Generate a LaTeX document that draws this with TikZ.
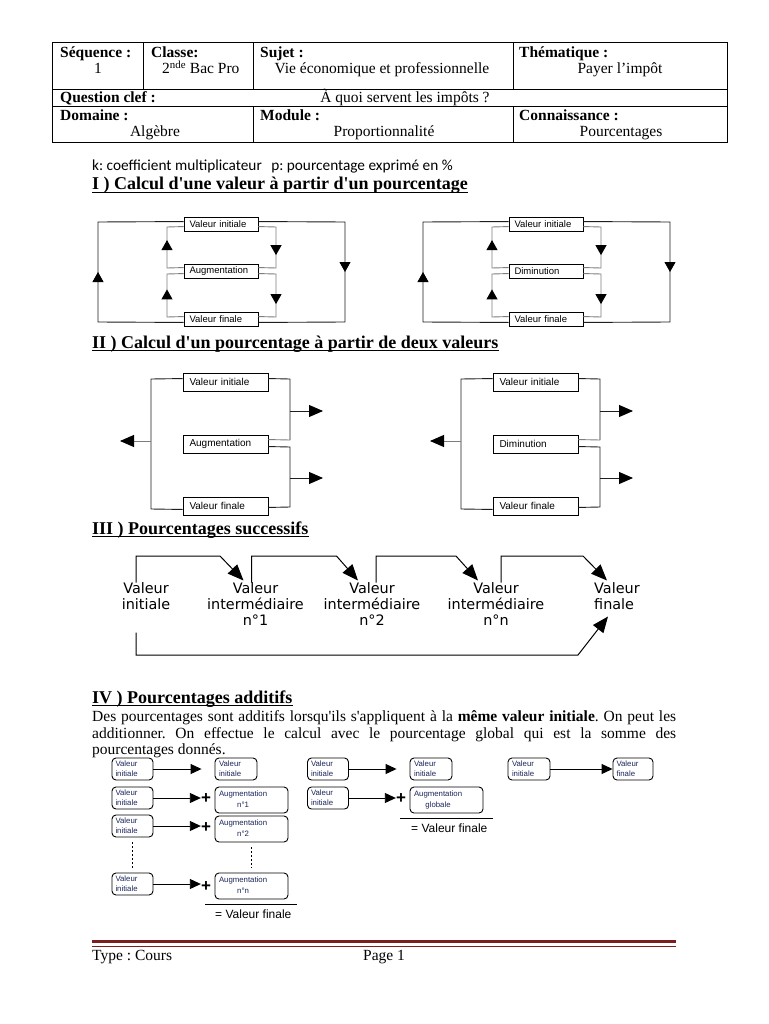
\documentclass[tikz,border=0pt]{standalone}
\usepackage{fontspec}
\setmainfont{Liberation Serif}
\newfontfamily\arialf{Liberation Sans}
\newfontfamily\dejaf{DejaVu Sans}
\newfontfamily\carlf{Carlito}
\usetikzlibrary{arrows.meta,calc,decorations.markings}
\definecolor{navytxt}{RGB}{28,38,90}
\definecolor{footred}{RGB}{122,30,30}
\definecolor{linegray}{RGB}{125,125,125}
\definecolor{linedark}{RGB}{30,30,30}
\tikzset{
 body/.style={font=\fontsize{15.5}{17}\selectfont, inner sep=0pt},
 lab/.style={font=\bfseries\fontsize{15.5}{17}\selectfont, inner sep=0pt, anchor=base west},
 head/.style={font=\bfseries\fontsize{18}{20}\selectfont, inner sep=0pt, anchor=base west},
 uline/.style={line width=1.3pt},
 tbl/.style={line width=0.8pt},
 ibox/.style={draw, line width=0.9pt, minimum width=74pt, minimum height=14pt, inner xsep=5.5pt, inner ysep=0pt, text width=63pt, align=left, font=\arialf\fontsize{9.5}{11}\selectfont},
 iibox/.style={draw, line width=0.9pt, minimum width=85pt, minimum height=18pt, inner xsep=6.5pt, inner ysep=0pt, text width=72pt, align=left, font=\arialf\fontsize{10}{12}\selectfont},
 oline/.style={draw=linedark, line width=0.9pt},
 gline/.style={draw=linegray, line width=0.9pt},
 midarr/.style={postaction={decorate}, decoration={markings, mark=at position #1 with {\arrow{Triangle[length=10pt,width=11pt,color=black,fill=black]}}}},
 arrII/.style={-{Triangle[length=14pt,width=12pt,color=black,fill=black]}},
 bigtxt/.style={font=\dejaf\fontsize{14.4}{16}\selectfont, inner sep=0pt, align=center, anchor=north},
 sarrIII/.style={line width=1pt, -{Triangle[length=16pt,width=13pt]}},
 rbox/.style={draw, rounded corners=4pt, line width=0.9pt, inner sep=0pt, font=\arialf\fontsize{7.8}{9.6}\selectfont, text=navytxt, minimum height=22pt, minimum width=41pt, text width=34pt, align=left},
 raug/.style={rbox, minimum width=73pt, minimum height=26pt, text width=65pt, font=\arialf\fontsize{7.8}{10.2}\selectfont},
 sarrIV/.style={line width=0.9pt, -{Triangle[length=11pt,width=10pt]}},
 plus/.style={font=\arialf\bfseries\fontsize{17}{17}\selectfont, inner sep=0pt},
 vfin/.style={font=\arialf\fontsize{12}{14}\selectfont, inner sep=0pt, anchor=base west},
 dotv/.style={line width=0.9pt, dash pattern=on 2pt off 2pt, shorten <=5pt, shorten >=5pt},
}
\newcommand\calcdiag[2]{%
 \node[ibox] (#1vi) at (221,224) {Valeur initiale};
 \node[ibox] (#1mid) at (221,271) {#2};
 \node[ibox] (#1vf) at (221,319) {Valeur finale};
 \draw[oline, midarr=0.5] ($(#1vf.south west)+(0,-4)$) -- (98,322) -- (98,222) -- ($(#1vi.north west)+(0,5)$);
 \draw[oline, midarr=0.5] ($(#1vi.north east)+(0,5)$) -- (345,222) -- (345,322) -- ($(#1vf.south east)+(0,-4)$);
 \draw[gline, midarr=0.6] ($(#1mid.north west)+(0,4)$) -- (167,268) -- (167,227) -- ($(#1vi.north west)+(0,10)$);
 \draw[gline, midarr=0.58] ($(#1vf.north west)+(0,5)$) -- (167,317) -- (167,274) -- ($(#1mid.north west)+(0,10)$);
 \draw[gline, midarr=0.6] ($(#1vi.north east)+(0,10)$) -- (276,227) -- (276,268) -- ($(#1mid.north east)+(0,4)$);
 \draw[gline, midarr=0.61] ($(#1mid.north east)+(0,10)$) -- (276,274) -- (276,317) -- ($(#1vf.north east)+(0,5)$);
}
\newcommand\pctdiag[2]{%
 \node[iibox] (#1vi) at (225.5,382) {Valeur initiale};
 \node[iibox] (#1mid) at (225.5,444) {#2};
 \node[iibox] (#1vf) at (225.5,506) {Valeur finale};
 \draw[oline] ($(#1vi.north west)+(0,6)$) -- (151,379) -- (151,509) -- ($(#1vf.south west)+(0,-6)$);
 \coordinate (#1l) at (151,441);
 \draw[gline, arrII] (#1l) -- (120,441);
 \draw[oline] ($(#1vi.north east)+(0,6)$) -- (290,379) -- (290,440);
 \draw[gline] (290,440) -- ($(#1mid.north east)+(0,5)$);
 \coordinate (#1ra) at (290,411);
 \draw[oline, arrII] (#1ra) -- (323,411);
 \draw[oline] ($(#1mid.north east)+(0,12)$) -- (290,447) -- (290,507) -- ($(#1vf.south east)+(0,-8)$);
 \coordinate (#1rb) at (290,478);
 \draw[oline, arrII] (#1rb) -- (323,478);
}
\begin{document}
\frenchspacing
\begin{tikzpicture}[x=1pt,y=-1pt]
\useasboundingbox (0,0) rectangle (768,1024);
\fill[white] (0,0) rectangle (768,1024);

% ---------- header table
\draw[tbl] (52,42) rectangle (727,142);
\draw[tbl] (52,89) -- (727,89);
\draw[tbl] (52,106) -- (727,106);
\draw[tbl] (143,42) -- (143,89);
\draw[tbl] (253,42) -- (253,89);
\draw[tbl] (513,42) -- (513,89);
\draw[tbl] (253,106) -- (253,142);
\draw[tbl] (513,106) -- (513,142);
\node[lab] (seq) at (60,58) {Séquence :};
\node[body, anchor=base] (seqv) at (98,74) {1};
\node[lab] (cla) at (151,58) {Classe:};
\node[body, anchor=base west] (clav) at (162,74) {2\textsuperscript{nde} Bac Pro};
\node[lab] (suj) at (260,58) {Sujet :};
\node[body, anchor=base] (sujv) at (382,74) {Vie économique et professionnelle};
\node[lab] (the) at (519,58) {Thématique :};
\node[body, anchor=base] (thev) at (620,74) {Payer l’impôt};
\node[lab] (qc) at (60,103) {Question clef :};
\node[body, anchor=base] (qcv) at (405,103) {À quoi servent les impôts ?};
\node[lab] (dom) at (60,121) {Domaine :};
\node[body, anchor=base] (domv) at (155,137) {Algèbre};
\node[lab] (mod) at (260,121) {Module :};
\node[body, anchor=base] (modv) at (384,137) {Proportionnalité};
\node[lab] (con) at (519,121) {Connaissance :};
\node[body, anchor=base] (conv) at (621,137) {Pourcentages};

% ---------- legend
\node[anchor=base west, inner sep=0pt, font=\carlf\fontsize{15.3}{17}\selectfont] (kline) at (92,171) {k: coefficient multiplicateur\hspace{6pt} p: pourcentage exprimé en \%};

% ---------- I
\node[head] (h1) at (92,190) {I ) Calcul d\textquotesingle une valeur à partir d\textquotesingle un pourcentage};
\draw[uline] ($(h1.base west)+(0,2.5)$) -- ($(h1.base east)+(0,2.5)$);
\calcdiag{a}{Augmentation}
\begin{scope}[shift={(325,0)}]
\calcdiag{d}{Diminution}
\end{scope}

% ---------- II
\node[head] (h2) at (92,348) {II ) Calcul d\textquotesingle un pourcentage à partir de deux valeurs};
\draw[uline] ($(h2.base west)+(0,2.5)$) -- ($(h2.base east)+(0,2.5)$);
\pctdiag{pa}{Augmentation}
\begin{scope}[shift={(310,0)}]
\pctdiag{pd}{Diminution}
\end{scope}

% ---------- III
\node[head] (h3) at (92,534) {III ) Pourcentages successifs};
\draw[uline] ($(h3.base west)+(0,2.5)$) -- ($(h3.base east)+(0,2.5)$);
\node[bigtxt] (v0) at (146,582.5) {Valeur\\initiale};
\node[bigtxt] (v1) at (255.5,582.5) {Valeur\\intermédiaire\\n°1};
\node[bigtxt] (v2) at (372,582.5) {Valeur\\intermédiaire\\n°2};
\node[bigtxt] (v3) at (496,582.5) {Valeur\\intermédiaire\\n°n};
\node[bigtxt, align=left, anchor=north west] (v4) at (594,582.5) {Valeur\\finale};
\draw[sarrIII] ($(v0.north)+(-10,0)$) -- ++(0,-26.5) -- (220,556) -- ($(v1.north)+(-12,-2)$);
\draw[sarrIII] ($(v1.north)+(-4,0)$) -- ++(0,-26.5) -- (336.5,556) -- ($(v2.north)+(-14,-2)$);
\draw[sarrIII] ($(v2.north)+(4,0)$) -- ++(0,-26.5) -- (456,556) -- ($(v3.north)+(-18,-2)$);
\draw[sarrIII] ($(v3.north)+(5,0)$) -- ++(0,-26.5) -- (583,556) -- ($(v4.north west)+(13,-2)$);
\draw[sarrIII] ($(v0.north)+(-10,50)$) -- ++(0,22.5) -- (578,655) -- ($(v4.north west)+(14,34)$);

% ---------- IV
\node[head] (h4) at (92,703) {IV ) Pourcentages additifs};
\draw[uline] ($(h4.base west)+(0,2.5)$) -- ($(h4.base east)+(0,2.5)$);
\node[body, anchor=base west] (p1) at (92,721) {\makebox[584pt][s]{Des pourcentages sont additifs lorsqu\textquotesingle ils s\textquotesingle appliquent à la \textbf{même valeur initiale}. On peut les}};
\node[body, anchor=base west] (p2) at (92,738) {\makebox[584pt][s]{additionner. On effectue le calcul avec le pourcentage global qui est la somme des}};
\node[body, anchor=base west] (p3) at (92,754) {pourcentages donnés.};

% left group
\node[rbox] (c11) at (132.5,769) {Valeur\\initiale};
\node[rbox, minimum width=42pt] (c12) at (236,769) {Valeur\\initiale};
\draw[sarrIV] (c11.east) -- ($(c12.west)+(-13,0)$);
\node[rbox] (c21) at (132.5,798) {Valeur\\initiale};
\node[plus] (p21) at (206,799) {+};
\node[raug] (c22) at (251.5,800) {\begin{tabular}{@{}c@{}}Augmentation\\n°1\end{tabular}};
\draw[sarrIV] (c21.east) -- (c21.east -| p21.west);
\node[rbox] (c31) at (132.5,826) {Valeur\\initiale};
\node[plus] (p31) at (206,828) {+};
\node[raug] (c32) at (251.5,829) {\begin{tabular}{@{}c@{}}Augmentation\\n°2\end{tabular}};
\draw[sarrIV] (c31.east) -- (c31.east -| p31.west);
\node[rbox] (c41) at (132.5,884) {Valeur\\initiale};
\node[plus] (p41) at (206,887) {+};
\node[raug] (c42) at (251.5,886) {\begin{tabular}{@{}c@{}}Augmentation\\n°n\end{tabular}};
\draw[sarrIV] (c41.east) -- (c41.east -| p41.west);
\draw[dotv] (c31.south) -- (c41.north);
\draw[dotv] (c32.south) -- (c42.north);
\coordinate (s1a) at (205,904);
\coordinate (s1b) at (297,904);
\draw[line width=0.9pt] (s1a) -- (s1b);
\node[vfin] (vf1) at (215,918) {= Valeur finale};

% middle group
\node[rbox] (d11) at (328,769) {Valeur\\initiale};
\node[rbox, minimum width=42pt] (d12) at (431,769) {Valeur\\initiale};
\draw[sarrIV] (d11.east) -- ($(d12.west)+(-13,0)$);
\node[rbox] (d21) at (328,798) {Valeur\\initiale};
\node[plus] (p22) at (401,799) {+};
\node[raug] (d22) at (446.5,800) {\begin{tabular}{@{}c@{}}Augmentation\\globale\end{tabular}};
\draw[sarrIV] (d21.east) -- (d21.east -| p22.west);
\coordinate (s2a) at (400,818);
\coordinate (s2b) at (493,818);
\draw[line width=0.9pt] (s2a) -- (s2b);
\node[vfin] (vf2) at (411,832) {= Valeur finale};

% right group
\node[rbox, minimum width=42pt] (e11) at (529,769) {Valeur\\initiale};
\node[rbox, minimum width=40pt, text width=33pt] (e12) at (633,769) {Valeur\\finale};
\draw[sarrIV] (e11.east) -- (e12.west);

% ---------- footer
\coordinate (fa) at (92,941);
\coordinate (fb) at (676,941);
\draw[line width=3pt, footred] (fa) -- (fb);
\draw[line width=1pt, footred] ($(fa)+(0,5)$) -- ($(fb)+(0,5)$);
\node[body, anchor=base west] (ft1) at (92,960) {Type : Cours};
\node[body, anchor=base west] (ft2) at (363,960) {Page 1};
\end{tikzpicture}
\end{document}
